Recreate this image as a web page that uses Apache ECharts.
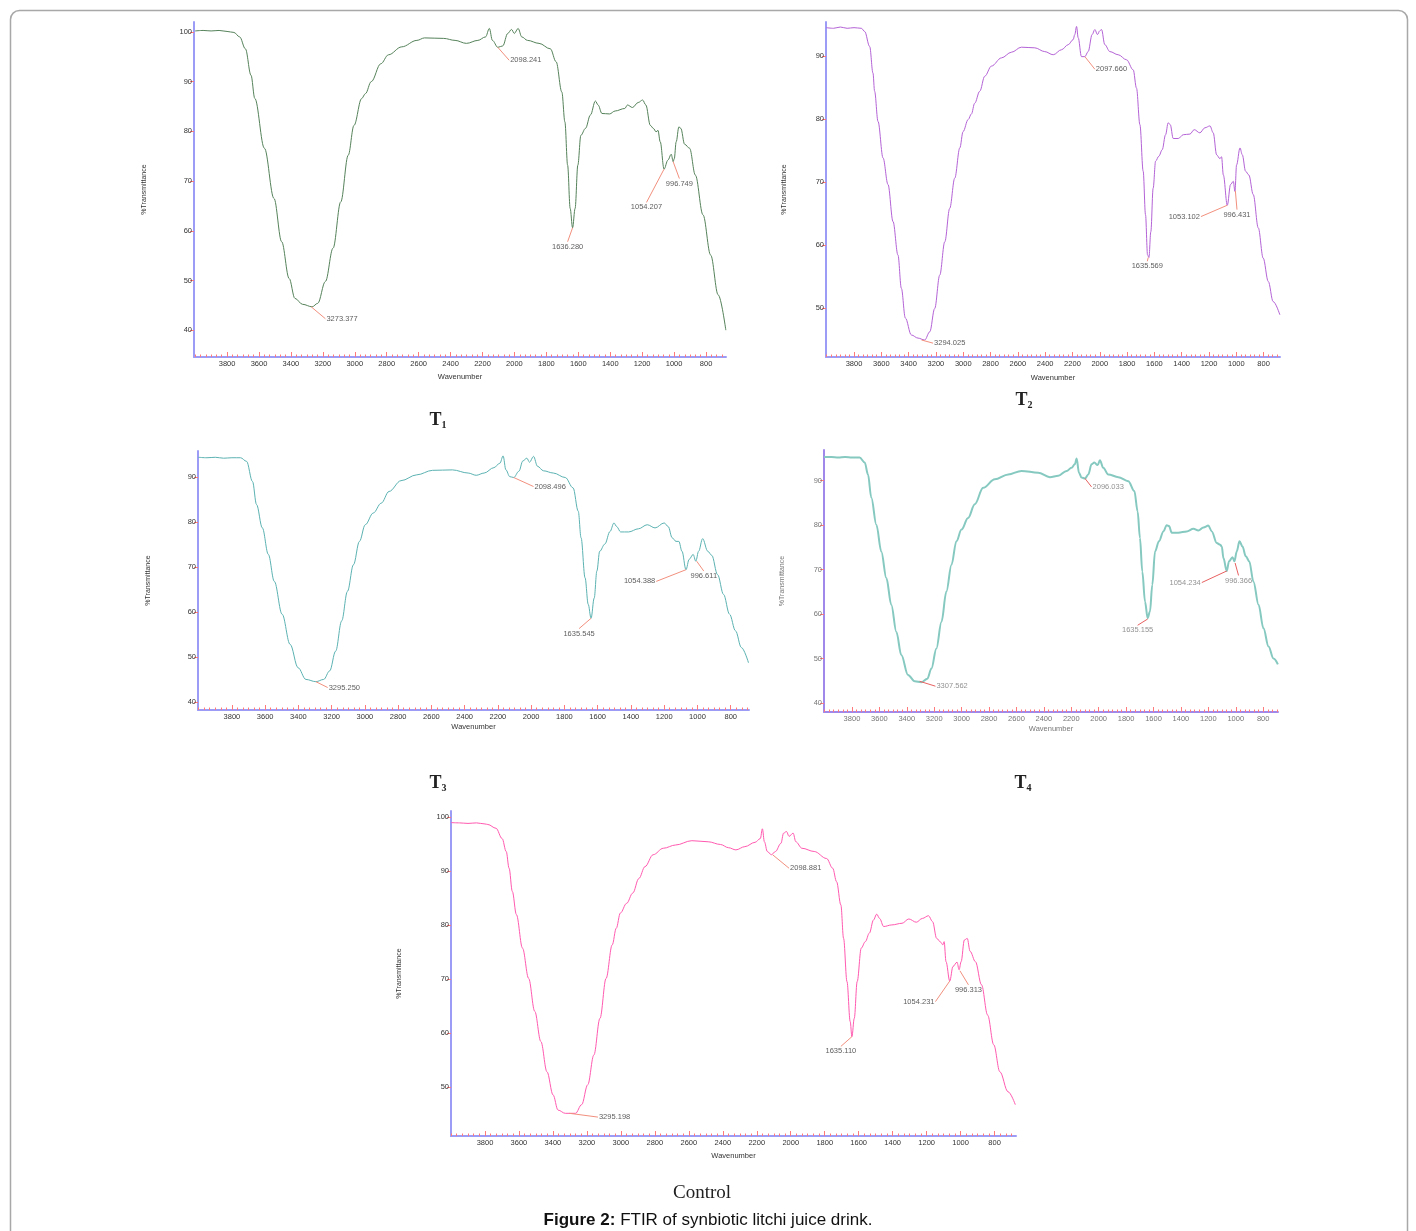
<!DOCTYPE html>
<html>
<head>
<meta charset="utf-8">
<script src="https://cdn.jsdelivr.net/npm/echarts@6/dist/echarts.min.js"></script>
<style>
  html, body { margin: 0; padding: 0; background: #fff; }
  #chart { width: 1416px; height: 1231px; }
</style>
</head>
<body>
<div id="chart"></div>
<script>
// ---- spectra: wavenumber (cm-1) / %transmittance ----
var t1Wn = [4000, 3950, 3900, 3850, 3800, 3757, 3721, 3685, 3650, 3626, 3566, 3506, 3458, 3411, 3375, 3327, 3267, 3232, 3184, 3136, 3088, 3041, 3005, 2957, 2933, 2897, 2837, 2789, 2706, 2611, 2563, 2443, 2372, 2301, 2229, 2181, 2157, 2138, 2104, 2073, 2042, 2018, 2001, 1977, 1954, 1918, 1846, 1775, 1739, 1703, 1684, 1667, 1651, 1636, 1620, 1603, 1584, 1555, 1524, 1493, 1476, 1452, 1405, 1369, 1309, 1292, 1261, 1225, 1197, 1177, 1149, 1130, 1113, 1101, 1087, 1063, 1039, 1018, 1006, 999, 987, 970, 958, 934, 903, 867, 819, 771, 724, 676];
var t1Tr = [100.2, 100.3, 100.2, 100.3, 100.1, 99.9, 99.0, 96.6, 91.3, 86.6, 76.6, 66.5, 57.8, 50.4, 46.4, 45.2, 44.7, 45.4, 49.8, 56.5, 65.8, 75.2, 81.2, 86.6, 87.6, 90.0, 93.6, 95.4, 97.0, 98.3, 98.8, 98.7, 98.3, 97.7, 98.3, 99.0, 100.7, 98.3, 96.9, 97.2, 99.7, 100.5, 99.7, 100.7, 99.0, 98.3, 97.7, 96.6, 94.0, 87.9, 81.9, 73.2, 64.5, 60.6, 64.5, 73.2, 79.2, 80.6, 83.3, 86.1, 85.3, 83.6, 83.5, 84.1, 84.6, 85.3, 84.8, 85.8, 86.3, 85.3, 81.2, 80.6, 79.9, 80.2, 77.9, 72.4, 74.2, 75.4, 73.9, 74.5, 77.9, 80.9, 80.6, 77.4, 76.6, 71.2, 63.2, 55.1, 47.1, 40.0];

var t2Wn = [4003, 3950, 3900, 3850, 3800, 3746, 3722, 3685, 3661, 3649, 3624, 3587, 3551, 3514, 3478, 3453, 3424, 3380, 3331, 3282, 3245, 3209, 3172, 3135, 3099, 3062, 3025, 3001, 2964, 2940, 2916, 2879, 2842, 2793, 2720, 2647, 2574, 2476, 2403, 2341, 2280, 2231, 2195, 2183, 2170, 2158, 2134, 2109, 2085, 2056, 2036, 2017, 2000, 1987, 1963, 1926, 1865, 1804, 1755, 1731, 1706, 1682, 1665, 1650, 1640, 1626, 1609, 1591, 1567, 1543, 1518, 1499, 1484, 1462, 1425, 1388, 1340, 1308, 1267, 1230, 1193, 1169, 1144, 1120, 1108, 1095, 1066, 1042, 1022, 1010, 998, 973, 956, 932, 908, 876, 839, 803, 766, 730, 681];
var t2Tr = [94.5, 94.4, 94.6, 94.4, 94.5, 94.4, 93.9, 91.5, 87.3, 84.4, 79.6, 73.8, 69.6, 63.7, 58.4, 53.1, 48.4, 45.7, 45.2, 44.9, 46.2, 49.9, 55.2, 60.5, 65.8, 70.6, 75.4, 78.0, 79.9, 80.8, 82.5, 84.4, 86.8, 88.4, 89.7, 90.6, 91.4, 91.3, 90.7, 90.2, 91.0, 91.8, 92.6, 93.4, 94.7, 92.9, 89.9, 89.9, 90.7, 93.4, 94.2, 93.4, 94.0, 94.2, 91.8, 90.7, 90.2, 89.4, 87.8, 84.9, 79.1, 71.7, 64.8, 58.4, 58.0, 62.1, 69.0, 73.3, 74.1, 75.1, 77.5, 79.4, 79.1, 76.9, 76.9, 77.5, 77.6, 78.3, 77.8, 78.6, 78.9, 77.8, 74.3, 73.7, 74.0, 71.1, 66.3, 69.6, 70.1, 68.5, 72.7, 75.4, 74.3, 71.7, 71.1, 68.0, 62.7, 57.9, 54.2, 51.0, 48.9];

var t3Wn = [4002, 3950, 3900, 3850, 3800, 3748, 3712, 3676, 3652, 3617, 3581, 3545, 3498, 3450, 3402, 3355, 3295, 3248, 3212, 3176, 3140, 3105, 3069, 3033, 2998, 2950, 2902, 2855, 2783, 2688, 2593, 2474, 2379, 2331, 2283, 2224, 2188, 2169, 2152, 2129, 2105, 2074, 2050, 2026, 2010, 1986, 1962, 1926, 1867, 1795, 1748, 1717, 1700, 1676, 1657, 1640, 1621, 1605, 1588, 1557, 1526, 1502, 1486, 1462, 1414, 1355, 1302, 1255, 1200, 1176, 1152, 1129, 1112, 1093, 1069, 1050, 1026, 1010, 993, 969, 938, 914, 879, 843, 807, 771, 736, 693];
var t3Tr = [94.4, 94.3, 94.4, 94.2, 94.3, 94.3, 93.5, 89.0, 83.9, 78.7, 72.8, 66.8, 59.5, 52.8, 47.6, 45.0, 44.5, 45.0, 46.9, 51.3, 58.0, 64.6, 70.5, 75.7, 79.4, 82.0, 84.2, 86.8, 89.2, 90.5, 91.5, 91.6, 90.9, 90.4, 90.9, 92.1, 93.1, 94.7, 91.6, 90.1, 89.9, 91.3, 93.6, 94.2, 93.3, 94.6, 92.4, 91.4, 90.9, 89.9, 87.6, 82.4, 76.5, 67.6, 61.7, 58.6, 63.1, 69.1, 73.5, 75.1, 77.9, 79.8, 79.0, 77.8, 77.8, 78.5, 79.4, 78.7, 79.8, 79.0, 76.5, 75.7, 75.7, 73.5, 69.4, 71.7, 72.8, 71.3, 73.5, 76.3, 73.5, 72.6, 68.3, 63.9, 59.5, 55.8, 52.1, 48.7];

var t4Wn = [4004, 3950, 3900, 3850, 3800, 3744, 3707, 3683, 3659, 3622, 3586, 3549, 3513, 3476, 3440, 3391, 3342, 3294, 3250, 3220, 3184, 3147, 3111, 3074, 3038, 3001, 2953, 2904, 2843, 2758, 2660, 2563, 2441, 2356, 2295, 2234, 2198, 2174, 2161, 2144, 2125, 2100, 2076, 2052, 2032, 2008, 1991, 1967, 1930, 1857, 1784, 1740, 1716, 1699, 1682, 1662, 1643, 1626, 1609, 1589, 1560, 1528, 1504, 1487, 1467, 1419, 1358, 1309, 1273, 1236, 1200, 1175, 1139, 1114, 1102, 1090, 1066, 1049, 1024, 1010, 993, 973, 951, 927, 902, 871, 834, 798, 761, 725, 693];
var t4Tr = [95.3, 95.3, 95.2, 95.3, 95.2, 95.2, 94.1, 91.4, 86.2, 80.1, 74.1, 68.1, 62.1, 56.0, 50.8, 46.3, 44.9, 44.7, 45.5, 47.8, 52.3, 58.3, 65.1, 71.1, 76.4, 79.0, 81.6, 84.7, 88.4, 90.3, 91.4, 92.2, 91.8, 90.8, 91.1, 92.2, 92.9, 93.7, 95.0, 91.8, 90.7, 90.5, 91.4, 93.7, 94.1, 93.5, 94.6, 92.9, 91.4, 90.8, 89.9, 87.7, 83.1, 77.1, 69.6, 62.8, 59.1, 60.6, 66.6, 74.1, 76.4, 78.6, 80.0, 79.8, 78.3, 78.3, 78.6, 79.2, 78.8, 79.5, 79.9, 78.6, 76.0, 75.6, 75.2, 72.6, 69.7, 71.9, 72.8, 71.9, 74.1, 76.4, 75.2, 73.0, 71.9, 67.3, 62.1, 56.8, 52.7, 50.0, 48.7];

var ctrlWn = [3999, 3950, 3900, 3850, 3800, 3783, 3735, 3699, 3675, 3658, 3639, 3615, 3579, 3543, 3507, 3471, 3435, 3399, 3370, 3327, 3267, 3231, 3195, 3159, 3123, 3087, 3051, 3027, 3003, 2966, 2930, 2894, 2858, 2810, 2750, 2678, 2582, 2486, 2414, 2366, 2323, 2270, 2210, 2179, 2167, 2155, 2138, 2114, 2090, 2058, 2042, 2025, 2010, 1986, 1970, 1934, 1862, 1789, 1753, 1730, 1705, 1689, 1669, 1650, 1640, 1626, 1609, 1585, 1561, 1537, 1513, 1494, 1477, 1453, 1405, 1345, 1305, 1261, 1225, 1189, 1165, 1141, 1117, 1105, 1097, 1086, 1064, 1045, 1021, 1009, 997, 978, 961, 944, 913, 877, 841, 805, 769, 721, 678];
var ctrlTr = [98.95, 98.9, 98.8, 98.9, 98.7, 98.6, 97.9, 96.0, 93.6, 90.5, 86.2, 81.9, 75.7, 70.1, 64.0, 58.4, 52.8, 48.5, 45.7, 45.1, 45.1, 46.7, 50.4, 55.9, 62.7, 70.1, 76.3, 79.4, 82.2, 84.0, 85.9, 88.6, 90.8, 93.0, 94.2, 94.8, 95.6, 95.4, 94.9, 94.3, 93.9, 94.5, 95.3, 96.0, 97.8, 95.4, 93.6, 93.0, 93.6, 95.1, 97.0, 97.3, 96.4, 97.0, 95.4, 94.2, 93.6, 92.3, 90.5, 88.0, 83.7, 77.5, 69.5, 62.1, 59.3, 62.7, 69.5, 75.7, 76.9, 78.5, 80.9, 82.0, 81.2, 79.7, 80.0, 80.3, 81.1, 80.5, 81.2, 81.7, 80.6, 77.5, 76.8, 76.3, 76.9, 73.2, 69.6, 72.3, 73.1, 71.7, 73.2, 77.2, 77.5, 75.1, 73.2, 68.9, 63.3, 57.8, 52.8, 49.1, 46.7];

// ---- peak picks: label text, peak point, end of leader line ----
var t1Labels = ['3273.377', '2098.241', '1636.280', '1054.207', '996.749'];
var t1PeakAt = [[3273, 44.7], [2104, 96.9], [1636, 60.6], [1063, 72.4], [1006, 73.9]];
var t1LabelAt = [[3184, 42.3], [2033, 94.3], [1667, 57.8], [1173, 65.7], [967, 70.5]];

var t2Labels = ['3294.025', '2097.660', '1635.569', '1053.102', '996.431'];
var t2PeakAt = [[3306, 44.9], [2109, 89.9], [1645, 58.0], [1066, 66.3], [1007, 68.6]];
var t2LabelAt = [[3221, 44.4], [2036, 87.9], [1652, 57.4], [1259, 64.5], [995, 65.6]];

var t3Labels = ['3295.250', '2098.496', '1635.545', '1054.388', '996.611'];
var t3PeakAt = [[3295, 44.5], [2105, 89.9], [1640, 58.6], [1069, 69.4], [1005, 71.3]];
var t3LabelAt = [[3224, 43.2], [1986, 87.9], [1712, 56.3], [1248, 66.8], [962, 69.1]];

var t4Labels = ['3307.562', '2096.033', '1635.155', '1054.234', '996.366'];
var t4PeakAt = [[3306, 44.9], [2100, 90.5], [1643, 58.9], [1066, 69.7], [1005, 71.5]];
var t4LabelAt = [[3191, 43.8], [2052, 88.6], [1716, 57.5], [1248, 67.1], [980, 68.7]];

var ctrlLabels = ['3295.198', '2098.881', '1635.110', '1054.231', '996.313'];
var ctrlPeakAt = [[3303, 45.1], [2107, 93.0], [1640, 59.3], [1064, 69.6], [1004, 71.5]];
var ctrlLabelAt = [[3135, 44.4], [2010, 90.5], [1705, 57.5], [1148, 65.8], [954, 68.9]];

// axis tick labels
var xTickLabels = [3800, 3600, 3400, 3200, 3000, 2800, 2600, 2400, 2200, 2000, 1800, 1600, 1400, 1200, 1000, 800];
var yTicks100 = [40, 50, 60, 70, 80, 90, 100];
var yTicks90 = [50, 60, 70, 80, 90];
var yTicks90b = [40, 50, 60, 70, 80, 90];
var yTicksCtrl = [50, 60, 70, 80, 90, 100];

// ---- layout (pixels) and look of each panel ----
var panels = [
  { wn: t1Wn, tr: t1Tr, labels: t1Labels, peakAt: t1PeakAt, labelAt: t1LabelAt,
    pos: ['right', 'right', 'bottom', 'bottom', 'bottom'],
    left: 194, top: 22, width: 532, height: 335, xMin: 675, xMax: 4007, yMin: 34.6, yMax: 102, yTicks: yTicks100,
    color: '#55825a', lead: '#f2907e', text: '#333', axis: '#9c9cf6', yGap: 46, xGap: 16 },
  { wn: t2Wn, tr: t2Tr, labels: t2Labels, peakAt: t2PeakAt, labelAt: t2LabelAt,
    pos: ['right', 'right', 'bottom', 'left', 'bottom'],
    left: 826, top: 22, width: 454, height: 335, xMin: 680, xMax: 4005, yMin: 42.2, yMax: 95.4, yTicks: yTicks90,
    color: '#b463d6', lead: '#f2907e', text: '#333', axis: '#9c9cf6', yGap: 38, xGap: 17 },
  { wn: t3Wn, tr: t3Tr, labels: t3Labels, peakAt: t3PeakAt, labelAt: t3LabelAt,
    pos: ['right', 'right', 'bottom', 'left', 'bottom'],
    left: 198, top: 451, width: 551, height: 259, xMin: 690, xMax: 4004, yMin: 38.2, yMax: 95.8, yTicks: yTicks90b,
    color: '#5cb2b2', lead: '#f2907e', text: '#333', axis: '#9c9cf6', yGap: 46, xGap: 13 },
  { wn: t4Wn, tr: t4Tr, labels: t4Labels, peakAt: t4PeakAt, labelAt: t4LabelAt,
    pos: ['right', 'right', 'bottom', 'left', 'bottom'],
    left: 824, top: 450, width: 454, height: 262, xMin: 692, xMax: 4004, yMin: 38, yMax: 96.9, yTicks: yTicks90b,
    color: '#86c9c0', lead: '#e86060', text: '#777', axis: '#a088ea', yGap: 38, xGap: 13, lineWidth: 2 },
  { wn: ctrlWn, tr: ctrlTr, labels: ctrlLabels, peakAt: ctrlPeakAt, labelAt: ctrlLabelAt,
    pos: ['right', 'right', 'bottom', 'left', 'bottom'],
    left: 451, top: 811, width: 565, height: 325, xMin: 674, xMax: 4000, yMin: 40.9, yMax: 101.1, yTicks: yTicksCtrl,
    color: '#ff5ab0', lead: '#f2907e', text: '#333', axis: '#9c9cf6', yGap: 48, xGap: 16 }
];

var FONT = '"Liberation Sans", Arial, sans-serif';
var SERIF = '"Liberation Serif", "DejaVu Serif", serif';

function minorTicks(lo, hi) {
  var out = [];
  for (var k = 0; ; k++) {
    var v = 4000 - k * 200 / 6;
    if (v < lo) break;
    if (v <= hi) out.push(v);
  }
  return out;
}

function plain(v) { return String(v); } // no thousands separator

var grids = [], xAxes = [], yAxes = [], series = [];

panels.forEach(function (p, i) {
  grids.push({ left: p.left, top: p.top, width: p.width, height: p.height });

  xAxes.push({
    type: 'value', gridIndex: i, inverse: true, min: p.xMin, max: p.xMax,
    name: 'Wavenumber', nameLocation: 'middle', nameGap: p.xGap,
    nameTextStyle: { fontFamily: FONT, fontSize: 7.5, color: p.text },
    axisLine: { lineStyle: { color: p.axis, width: 2 } },
    axisTick: { inside: true, length: 5, customValues: xTickLabels, lineStyle: { color: '#ff7a7a', width: 1 } },
    axisLabel: { customValues: xTickLabels, formatter: plain, fontFamily: FONT, fontSize: 7.5, color: p.text, margin: 3 },
    splitLine: { show: false }
  });
  xAxes.push({
    type: 'value', gridIndex: i, inverse: true, min: p.xMin, max: p.xMax, position: 'bottom',
    axisLine: { show: false },
    axisTick: { inside: true, length: 2.5, customValues: minorTicks(p.xMin, p.xMax), lineStyle: { color: '#ff7a7a', width: 1 } },
    axisLabel: { show: false },
    splitLine: { show: false }
  });

  yAxes.push({
    type: 'value', gridIndex: i, min: p.yMin, max: p.yMax,
    name: '%Transmittance', nameLocation: 'middle', nameGap: p.yGap, nameRotate: 90,
    nameTextStyle: { fontFamily: FONT, fontSize: 7, color: p.text },
    axisLine: { show: true, lineStyle: { color: p.axis, width: 2 } },
    axisTick: { show: true, length: 4, customValues: p.yTicks, lineStyle: { color: '#ff7a7a', width: 1 } },
    axisLabel: { customValues: p.yTicks, formatter: plain, fontFamily: FONT, fontSize: 7.5, color: p.text, margin: 2 },
    splitLine: { show: false }
  });

  var pts = p.wn.map(function (w, k) { return [w, p.tr[k]]; });
  series.push({
    type: 'line', xAxisIndex: 2 * i, yAxisIndex: i, data: pts,
    showSymbol: false, smooth: 0.35, smoothMonotone: 'x',
    lineStyle: { color: p.color, width: p.lineWidth || 1 },
    silent: true
  });

  series.push({
    type: 'scatter', xAxisIndex: 2 * i, yAxisIndex: i, symbolSize: 0,
    data: p.labelAt.map(function (c, k) {
      return { value: c, name: p.labels[k], label: { position: p.pos[k] } };
    }),
    label: { show: true, formatter: '{b}', fontFamily: FONT, fontSize: 7.5, color: p.text, distance: 1 },
    markLine: {
      silent: true, symbol: ['none', 'none'],
      label: { show: false },
      lineStyle: { color: p.lead, width: 1, type: 'solid' },
      data: p.peakAt.map(function (c, k) {
        return [{ coord: c }, { coord: p.labelAt[k] }];
      })
    }
  });
});

function caption(x, y, main, sub) {
  return {
    type: 'text', x: x, y: y,
    style: {
      text: '{t|' + main + '}{s|' + sub + '}',
      align: 'center', verticalAlign: 'middle',
      rich: {
        t: { fontFamily: SERIF, fontSize: 18, fontWeight: 'bold', fill: '#222', lineHeight: 20 },
        s: { fontFamily: SERIF, fontSize: 10, fontWeight: 'bold', fill: '#222', verticalAlign: 'bottom', lineHeight: 14 }
      }
    }
  };
}

var chart = echarts.init(document.getElementById('chart'), null, { renderer: 'canvas' });
chart.setOption({
  animation: false,
  backgroundColor: '#fff',
  grid: grids,
  xAxis: xAxes,
  yAxis: yAxes,
  series: series,
  graphic: [
    { type: 'rect', shape: { x: 10.5, y: 10.5, width: 1397, height: 1240, r: 9 },
      style: { fill: 'none', stroke: '#a8a8a8', lineWidth: 1.5 }, silent: true },
    caption(438, 420, 'T', '1'),
    caption(1024, 400, 'T', '2'),
    caption(438, 783, 'T', '3'),
    caption(1023, 783, 'T', '4'),
    { type: 'text', x: 702, y: 1193,
      style: { text: 'Control', fontFamily: SERIF, fontSize: 19, fill: '#222', align: 'center', verticalAlign: 'middle' } },
    { type: 'text', x: 708, y: 1220,
      style: {
        text: '{b|Figure 2:}{n| FTIR of synbiotic litchi juice drink.}',
        align: 'center', verticalAlign: 'middle',
        rich: {
          b: { fontFamily: FONT, fontSize: 17, fontWeight: 'bold', fill: '#111' },
          n: { fontFamily: FONT, fontSize: 17, fill: '#111' }
        }
      } }
  ]
});
</script>
</body>
</html>
